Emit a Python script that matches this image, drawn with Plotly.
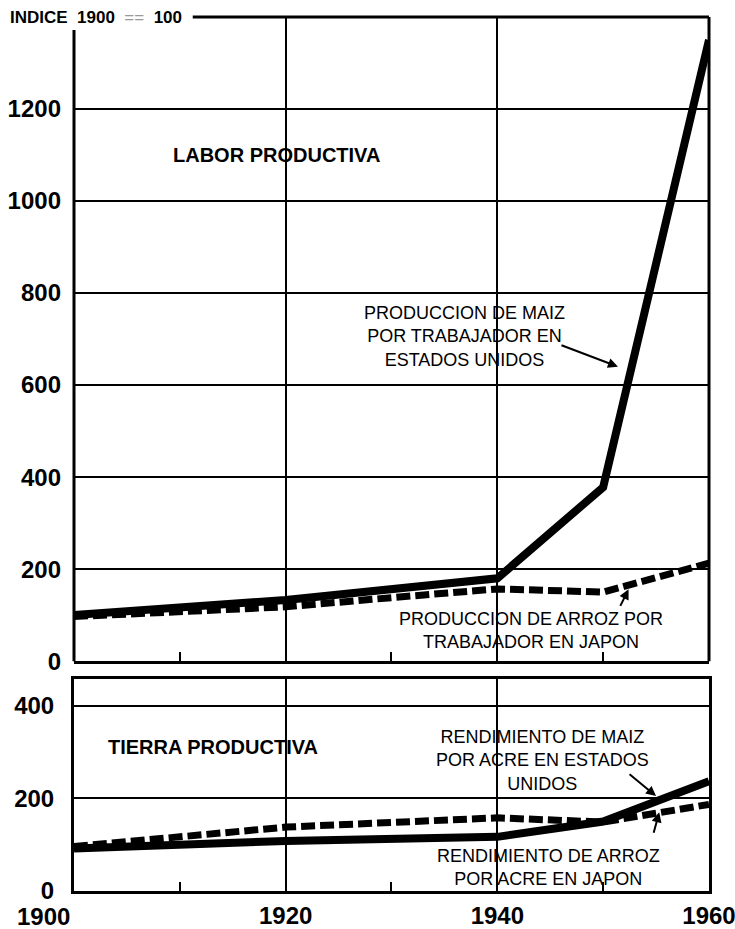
import plotly.graph_objects as go

years_us_worker = [1900, 1920, 1940, 1950, 1960]
us_corn_per_worker = [100, 133, 180, 378, 1350]
years_jp_worker = [1900, 1920, 1930, 1940, 1950, 1960]
jp_rice_per_worker = [97, 118, 138, 157, 150, 213]

years_us_acre = [1900, 1920, 1940, 1950, 1960]
us_corn_per_acre = [92, 108, 117, 150, 237]
years_jp_acre = [1900, 1920, 1940, 1950, 1960]
jp_rice_per_acre = [96, 138, 158, 149, 187]

x_ticks = [1920, 1940, 1960]
x_minor = [1910, 1930, 1950]
y_ticks_top = [0, 200, 400, 600, 800, 1000, 1200]
y_ticks_bot = [0, 200, 400]

BOLD = "Liberation Sans"
fig = go.Figure()

fig.add_trace(go.Scatter(x=years_us_worker, y=us_corn_per_worker, mode="lines",
                         line=dict(color="black", width=8), xaxis="x", yaxis="y"))
fig.add_trace(go.Scatter(x=years_jp_worker, y=jp_rice_per_worker, mode="lines",
                         line=dict(color="black", width=7, dash="14px,5px"), xaxis="x", yaxis="y"))
fig.add_trace(go.Scatter(x=years_us_acre, y=us_corn_per_acre, mode="lines",
                         line=dict(color="black", width=8), xaxis="x2", yaxis="y2"))
fig.add_trace(go.Scatter(x=years_jp_acre, y=jp_rice_per_acre, mode="lines",
                         line=dict(color="black", width=7, dash="14px,5px"), xaxis="x2", yaxis="y2"))

tickfont = dict(family=BOLD, size=24, color="black", weight="bold")
common_x = dict(range=[1900, 1960.001], showgrid=True, gridcolor="black", gridwidth=2,
                zeroline=False, showline=True, linecolor="black", linewidth=3,
                tickvals=x_ticks, ticks="", tickfont=tickfont, ticklabeloverflow="allow",
                automargin=False,
                minor=dict(tickvals=x_minor, ticks="inside", ticklen=9, tickwidth=2,
                           tickcolor="black", showgrid=False))

fig.update_layout(
    width=735, height=929,
    margin=dict(l=74, r=26, t=17, b=38),
    paper_bgcolor="white", plot_bgcolor="white",
    showlegend=False,
    xaxis=dict(common_x, domain=[0, 1], anchor="y", showticklabels=False),
    yaxis=dict(domain=[0.263, 1], range=[0, 1400], tickvals=y_ticks_top,
               showgrid=True, gridcolor="black", gridwidth=2, zeroline=False,
               showline=False, ticks="", tickfont=tickfont, ticklabelstandoff=12,
               automargin=False),
    xaxis2=dict(common_x, domain=[0, 1], anchor="y2", mirror=True, ticklabelstandoff=1),
    yaxis2=dict(domain=[0, 0.2426], range=[0, 458], tickvals=y_ticks_bot,
                showgrid=True, gridcolor="black", gridwidth=2, zeroline=False,
                showline=True, mirror=True, linecolor="black", linewidth=3,
                ticks="", tickfont=tickfont, ticklabelstandoff=12, automargin=False),
)

# top panel frame (partial top line, left line with small gap)
fig.add_shape(type="line", xref="x domain", yref="y domain", x0=0.187, x1=1, y0=1, y1=1,
              line=dict(color="black", width=3))
fig.add_shape(type="line", xref="x domain", yref="y domain", x0=0, x1=0, y0=0, y1=0.98,
              line=dict(color="black", width=3))
fig.add_shape(type="line", xref="x domain", yref="y domain", x0=1, x1=1, y0=0, y1=1,
              line=dict(color="black", width=3))

lab = dict(family="Liberation Sans", size=18, color="black")
ann = []
ann.append(dict(xref="paper", yref="paper", x=-0.104, y=1.0, xanchor="left", yanchor="middle",
                text="INDICE  1900  <span style='font-weight:normal;color:#999'>==</span>  100",
                showarrow=False, font=dict(family=BOLD, size=17, color="black", weight="bold")))
ann.append(dict(xref="x", yref="y", x=1909.2, y=1100, xanchor="left", yanchor="middle",
                text="LABOR PRODUCTIVA", showarrow=False,
                font=dict(family=BOLD, size=20, color="black", weight="bold")))
ann.append(dict(xref="x2", yref="y2", x=1903, y=310, xanchor="left", yanchor="middle",
                text="TIERRA PRODUCTIVA", showarrow=False,
                font=dict(family=BOLD, size=20, color="black", weight="bold")))
ann.append(dict(xref="x", yref="y", x=1936.9, y=705, xanchor="center", yanchor="middle",
                text="PRODUCCION DE MAIZ<br>POR TRABAJADOR EN<br>ESTADOS UNIDOS",
                showarrow=False, font=lab, align="center"))
ann.append(dict(xref="x", yref="y", x=1943.2, y=67, xanchor="center", yanchor="middle",
                text="PRODUCCION DE ARROZ POR<br>TRABAJADOR EN JAPON",
                showarrow=False, font=lab, align="center"))
ann.append(dict(xref="x2", yref="y2", x=1944.3, y=281, xanchor="center", yanchor="middle",
                text="RENDIMIENTO DE MAIZ<br>POR ACRE EN ESTADOS<br>UNIDOS",
                showarrow=False, font=lab, align="center"))
ann.append(dict(xref="x2", yref="y2", x=1944.8, y=51, xanchor="center", yanchor="middle",
                text="RENDIMIENTO DE ARROZ<br>POR ACRE EN JAPON",
                showarrow=False, font=lab, align="center"))
# arrows
arrow = dict(text="", showarrow=True, arrowhead=2, arrowsize=1, arrowwidth=2, arrowcolor="black",
             axref="pixel", ayref="pixel")
ann.append(dict(arrow, xref="x", yref="y", x=1951.4, y=640, ax=-58, ay=-22))
ann.append(dict(arrow, xref="x", yref="y", x=1952.4, y=156, ax=-9, ay=18))
ann.append(dict(arrow, xref="x2", yref="y2", x=1955.0, y=205, ax=-28, ay=-23))
ann.append(dict(arrow, xref="x2", yref="y2", x=1955.3, y=170, ax=-6, ay=22))
# 1900 label right-aligned at axis origin
ann.append(dict(xref="x2", yref="paper", x=1900, y=0, xanchor="right", yanchor="top",
                yshift=-10, xshift=-2, text="1900", showarrow=False, font=tickfont))
fig.update_layout(annotations=ann)

fig.write_html("out.html", config={"displayModeBar": False},
               post_script="document.body.style.margin='0';")
